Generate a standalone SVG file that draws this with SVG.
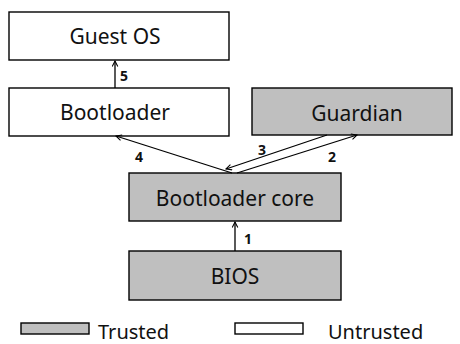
<svg xmlns="http://www.w3.org/2000/svg" width="460" height="344" viewBox="0 0 460 344">
<style>
.box{stroke:#000;stroke-width:1.4}
.t{fill:#fff}
.g{fill:#bfbfbf}
.lbl{font-family:"Noto Sans",sans-serif;font-size:21px;fill:#111;text-anchor:middle}
.num{font-family:"Noto Sans",sans-serif;font-size:14px;font-weight:bold;fill:#111;text-anchor:middle}
.leg{font-family:"Noto Sans",sans-serif;font-size:20px;fill:#111}
.c{stroke:#000;stroke-width:1.3;fill:none;marker-end:url(#ah)}
</style>
<defs>
<marker id="ah" viewBox="0 0 10 10" refX="9" refY="5" markerWidth="7" markerHeight="7" markerUnits="userSpaceOnUse" orient="auto">
<path d="M1,1 L9,5 L1,9" fill="none" stroke="#000" stroke-width="1.5"/>
</marker>
</defs>
<rect width="460" height="344" fill="#fff"/>
<g id="guest-os"><rect class="box t" x="9" y="12" width="220" height="48"/><text class="lbl" x="115" y="44">Guest OS</text></g>
<g id="bootloader"><rect class="box t" x="9" y="88" width="220" height="48"/><text class="lbl" x="115" y="120">Bootloader</text></g>
<g id="guardian"><rect class="box g" x="252" y="88" width="200" height="47"/><text class="lbl" x="357" y="121">Guardian</text></g>
<g id="bootloader-core"><rect class="box g" x="129" y="173" width="212" height="48"/><text class="lbl" x="235" y="206">Bootloader core</text></g>
<g id="bios"><rect class="box g" x="129" y="251" width="212" height="49"/><text class="lbl" x="235" y="284">BIOS</text></g>
<g id="connectors">
<line class="c" x1="115" y1="88" x2="115" y2="61"/>
<line class="c" x1="235" y1="251" x2="235" y2="222"/>
<line class="c" x1="232" y1="173" x2="116" y2="136"/>
<line class="c" x1="327" y1="135" x2="226" y2="169"/>
<line class="c" x1="237" y1="173" x2="357" y2="135"/>
<text class="num" x="124" y="81">5</text>
<text class="num" x="248" y="244">1</text>
<text class="num" x="139" y="162">4</text>
<text class="num" x="262" y="155">3</text>
<text class="num" x="332" y="162">2</text>
</g>
<g id="legend">
<rect class="box g" x="21" y="323" width="68" height="11"/>
<text class="leg" x="98" y="339">Trusted</text>
<rect class="box t" x="235" y="323" width="68" height="11"/>
<text class="leg" x="328" y="339">Untrusted</text>
</g>
</svg>
